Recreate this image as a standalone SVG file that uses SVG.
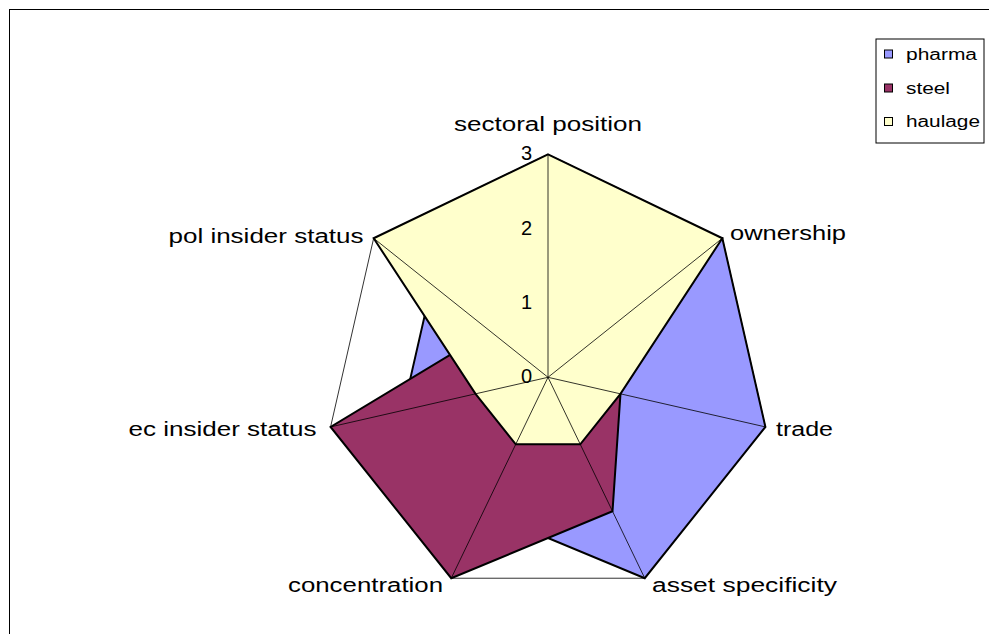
<svg xmlns="http://www.w3.org/2000/svg" width="989" height="634" viewBox="0 0 989 634">
<style>
text{font-family:"Liberation Sans",Arial,sans-serif;fill:#000}
.lbl{font-size:20px}
.tick{font-size:20px;text-anchor:end}
.leg{font-size:16px}
.series{stroke:#000;stroke-width:2;stroke-linejoin:miter}
.spoke{stroke:#000;stroke-width:0.8;fill:none}
.web{stroke:#333;stroke-width:1;fill:none}
</style>
<rect x="9.5" y="9.5" width="1000" height="700" fill="#fff" stroke="#000" stroke-width="1"/>
<g id="grid">
<polygon class="web" points="548,154.3 722.35,238.26 765.41,426.92 644.76,578.22 451.24,578.22 330.59,426.92 373.65,238.26"/>
</g>
<g id="pharma">
<polygon class="series" fill="#9999FF" points="548,228.63 722.35,238.26 765.41,426.92 644.76,578.22 483.5,511.25 403.06,410.38 431.77,284.61"/>
</g>
<g id="steel">
<polygon class="series" fill="#993366" points="548,302.97 606.11,330.96 620.47,393.84 612.5,511.25 451.24,578.22 330.59,426.92 489.89,330.96"/>
</g>
<g id="haulage">
<polygon class="series" fill="#FFFFCC" points="548,154.3 722.35,238.26 620.47,393.84 580.25,444.27 515.75,444.27 475.53,393.84 373.65,238.26"/>
</g>
<g id="connectors">
<line class="spoke" x1="548" y1="377.3" x2="548" y2="154.3"/>
<line class="spoke" x1="548" y1="377.3" x2="722.35" y2="238.26"/>
<line class="spoke" x1="548" y1="377.3" x2="765.41" y2="426.92"/>
<line class="spoke" x1="548" y1="377.3" x2="644.76" y2="578.22"/>
<line class="spoke" x1="548" y1="377.3" x2="451.24" y2="578.22"/>
<line class="spoke" x1="548" y1="377.3" x2="330.59" y2="426.92"/>
<line class="spoke" x1="548" y1="377.3" x2="373.65" y2="238.26"/>
</g>
<g id="axis-values">
<text class="tick" x="532" y="383.3">0</text>
<text class="tick" x="532" y="309">1</text>
<text class="tick" x="532" y="234.7">2</text>
<text class="tick" x="532" y="160.4">3</text>
</g>
<g id="axis-labels">
<text class="lbl" x="454" y="131" textLength="188" lengthAdjust="spacingAndGlyphs">sectoral position</text>
<text class="lbl" x="730" y="240" textLength="116" lengthAdjust="spacingAndGlyphs">ownership</text>
<text class="lbl" x="776" y="436" textLength="57" lengthAdjust="spacingAndGlyphs">trade</text>
<text class="lbl" x="652" y="592" textLength="185" lengthAdjust="spacingAndGlyphs">asset specificity</text>
<text class="lbl" x="288" y="592" textLength="155" lengthAdjust="spacingAndGlyphs">concentration</text>
<text class="lbl" x="128.5" y="436" textLength="188" lengthAdjust="spacingAndGlyphs">ec insider status</text>
<text class="lbl" x="168.5" y="242.7" textLength="195" lengthAdjust="spacingAndGlyphs">pol insider status</text>
</g>
<g id="legend">
<rect x="876" y="39" width="108" height="104" fill="#fff" stroke="#000" stroke-width="1"/>
<rect x="884.5" y="50" width="8" height="8" fill="#9999FF" stroke="#000" stroke-width="1"/>
<rect x="884.5" y="84" width="8" height="8" fill="#993366" stroke="#000" stroke-width="1"/>
<rect x="884.5" y="117.5" width="8" height="8" fill="#FFFFCC" stroke="#000" stroke-width="1"/>
<text class="leg" x="906" y="60" textLength="71" lengthAdjust="spacingAndGlyphs">pharma</text>
<text class="leg" x="906" y="93.5" textLength="44" lengthAdjust="spacingAndGlyphs">steel</text>
<text class="leg" x="906" y="127" textLength="74" lengthAdjust="spacingAndGlyphs">haulage</text>
</g>
</svg>
